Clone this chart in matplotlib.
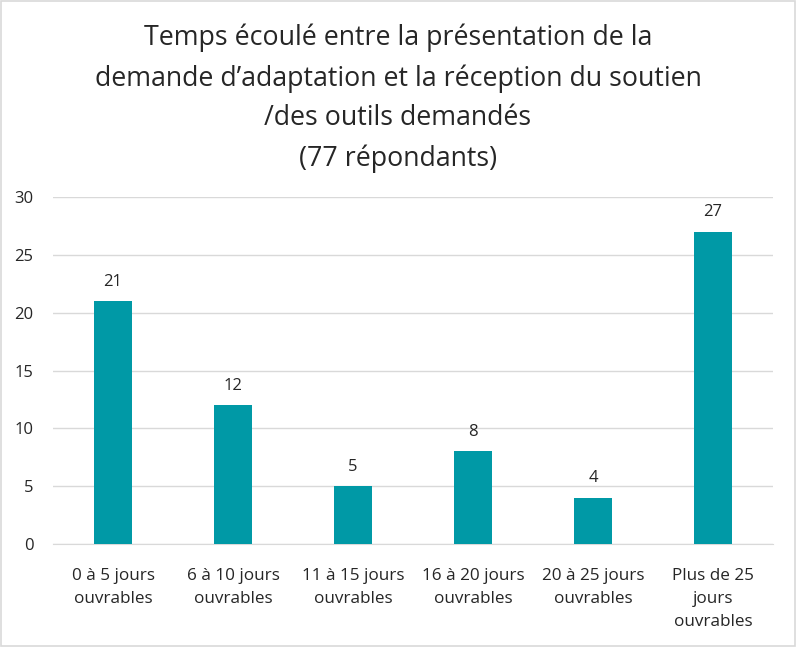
import matplotlib
matplotlib.use("Agg")
import matplotlib.pyplot as plt
from matplotlib.patches import Rectangle

# données
categories = ["0 à 5 jours\nouvrables", "6 à 10 jours\nouvrables", "11 à 15 jours\nouvrables",
              "16 à 20 jours\nouvrables", "20 à 25 jours\nouvrables", "Plus de 25\njours\nouvrables"]
valeurs = [21, 12, 5, 8, 4, 27]
yticks = [0, 5, 10, 15, 20, 25, 30]

plt.rcParams['font.family'] = ['Open Sans', 'DejaVu Sans']

fig = plt.figure(figsize=(7.96, 6.47), dpi=100)
ax = fig.add_axes([0.0666, 0.1592, 0.9044, 0.5363])

x = range(len(categories))
bars = ax.bar(x, valeurs, width=0.32, color="#0099A6", zorder=3)
for b, v in zip(bars, valeurs):
    ax.text(b.get_x() + b.get_width() / 2, v + 1.0, str(v), ha="center", va="bottom",
            fontsize=12, color="#262626")

ax.set_xlim(-0.5, len(categories) - 0.5)
ax.set_ylim(0, 30)
ax.set_yticks(yticks)
ax.set_xticks(list(x))
ax.set_xticklabels(categories, fontsize=12.3, color="#262626", linespacing=1.62)
ax.tick_params(axis="y", labelsize=12, labelcolor="#262626", length=0, pad=14)
ax.tick_params(axis="x", length=0, pad=17)
ax.grid(axis="y", color="#d9d9d9", linewidth=1, zorder=0)
for s in ["top", "right", "left"]:
    ax.spines[s].set_visible(False)
ax.spines["bottom"].set_color("#d9d9d9")

fig.text(0.5, 0.848, "Temps écoulé entre la présentation de la\ndemande d’adaptation et la réception du soutien\n/des outils demandés\n(77 répondants)",
         ha="center", va="center", fontsize=19.3, color="#262626", linespacing=1.55)

# bordure
fig.patches.append(Rectangle((0.001, 0.001), 0.998, 0.998, transform=fig.transFigure,
                             fill=False, edgecolor="#d9d9d9", linewidth=1.2))

fig.savefig("out.png", dpi=100)
